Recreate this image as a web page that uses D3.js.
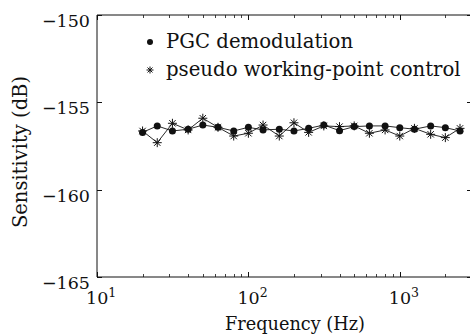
<!DOCTYPE html>
<html><head><meta charset="utf-8">
<script src="https://cdn.jsdelivr.net/npm/d3@7"></script>
<style>html,body{margin:0;padding:0;background:#fff;}svg{display:block;}</style>
</head><body>
<svg id="c" width="470" height="336"></svg>
<script>
const freqs = [20,25,31.5,40,50,63,80,100,125,160,200,250,315,400,500,630,800,1000,1250,1600,2000,2500];
const pgc = [-156.72,-156.35,-156.64,-156.54,-156.30,-156.43,-156.64,-156.43,-156.58,-156.54,-156.64,-156.49,-156.30,-156.62,-156.39,-156.35,-156.35,-156.45,-156.54,-156.35,-156.45,-156.64];
const pseudo = [-156.64,-157.31,-156.20,-156.58,-155.91,-156.43,-156.93,-156.77,-156.30,-156.93,-156.17,-156.72,-156.35,-156.39,-156.35,-156.77,-156.58,-156.93,-156.49,-156.83,-157.02,-156.49];
const seriesNames = ["PGC demodulation","pseudo working-point control"];
const yTicks = [-165,-160,-155,-150];
const xMajor = [10,100,1000];
const xDomain = [10,3000];
const yDomain = [-165,-150];

const svg = d3.select("#c");
const L=97, R=472, T=15, B=277;
const x = d3.scaleLog().domain(xDomain).range([L,R]);
const y = d3.scaleLinear().domain(yDomain).range([B,T]);
const font = "'DejaVu Serif', serif";
const ink = "#111";

const minor = [];
for (let d=10; d<xDomain[1]; d*=10) for (let k=2;k<=9;k++){ if(d*k<=xDomain[1]) minor.push(d*k); }

const g = svg.append("g");
g.append("line").attr("x1",L).attr("x2",L).attr("y1",T).attr("y2",B).attr("stroke",ink);
g.append("line").attr("x1",L).attr("x2",R).attr("y1",B).attr("y2",B).attr("stroke",ink);
g.append("line").attr("x1",L).attr("x2",R).attr("y1",T).attr("y2",T).attr("stroke",ink);
g.append("line").attr("x1",R).attr("x2",R).attr("y1",T).attr("y2",B).attr("stroke",ink);

minor.forEach(v=>{
  const xx = Math.round(x(v))+0.5;
  g.append("line").attr("x1",xx).attr("x2",xx).attr("y1",B).attr("y2",B-3).attr("stroke",ink).attr("stroke-width",0.8);
  g.append("line").attr("x1",xx).attr("x2",xx).attr("y1",T).attr("y2",T+3).attr("stroke",ink).attr("stroke-width",0.8);
});
xMajor.forEach(v=>{
  const xx = Math.round(x(v))+0.5;
  g.append("line").attr("x1",xx).attr("x2",xx).attr("y1",B).attr("y2",B-5).attr("stroke",ink);
  g.append("line").attr("x1",xx).attr("x2",xx).attr("y1",T).attr("y2",T+5).attr("stroke",ink);
  const t = g.append("text").attr("x",x(v)-11).attr("y",B+27).attr("text-anchor","start")
    .attr("font-family",font).attr("font-size",17.5).attr("fill",ink);
  t.append("tspan").text("10");
  t.append("tspan").attr("dy",-7).attr("font-size",12.5).text(String(Math.round(Math.log10(v))));
});
yTicks.forEach(v=>{
  const yy = Math.round(y(v))+0.5;
  g.append("line").attr("x1",L).attr("x2",L+5).attr("y1",yy).attr("y2",yy).attr("stroke",ink);
  g.append("line").attr("x1",R-5).attr("x2",R).attr("y1",yy).attr("y2",yy).attr("stroke",ink);
  g.append("text").attr("x",L-7).attr("y",y(v)+12).attr("text-anchor","end")
    .attr("font-family",font).attr("font-size",17.5).attr("fill",ink).text("\u2212"+Math.abs(v));
});
g.append("text").attr("x",295).attr("y",330).attr("text-anchor","middle")
  .attr("font-family",font).attr("font-size",17.7).attr("fill",ink).text("Frequency (Hz)");
g.append("text").attr("transform","translate(27,152) rotate(-90)").attr("text-anchor","middle")
  .attr("font-family",font).attr("font-size",19.5).attr("fill",ink).text("Sensitivity (dB)");

const line = d3.line().x(d=>x(d[0])).y(d=>y(d[1]));
const d1 = freqs.map((f,i)=>[f,pgc[i]]);
const d2 = freqs.map((f,i)=>[f,pseudo[i]]);
g.append("path").attr("d",line(d2)).attr("fill","none").attr("stroke",ink).attr("stroke-width",0.9);
g.append("path").attr("d",line(d1)).attr("fill","none").attr("stroke",ink).attr("stroke-width",0.9);

function star(sel,cx,cy,r){
  const a = r*0.7071;
  const p = `M${cx-r},${cy}L${cx+r},${cy}M${cx},${cy-r}L${cx},${cy+r}M${cx-a},${cy-a}L${cx+a},${cy+a}M${cx-a},${cy+a}L${cx+a},${cy-a}`;
  sel.append("path").attr("d",p).attr("stroke",ink).attr("stroke-width",1).attr("fill","none");
}
d2.forEach(d=>star(g,x(d[0]),y(d[1]),4.5));
g.selectAll("circle.p").data(d1).enter().append("circle").attr("class","p")
  .attr("cx",d=>x(d[0])).attr("cy",d=>y(d[1])).attr("r",3.5).attr("fill",ink);

g.append("circle").attr("cx",150).attr("cy",42).attr("r",3).attr("fill",ink);
g.append("text").attr("x",166).attr("y",48).attr("font-family",font).attr("font-size",19.7).attr("fill",ink).text(seriesNames[0]);
star(g,150,70,3.5);
g.append("text").attr("x",166).attr("y",76).attr("font-family",font).attr("font-size",19.7).attr("fill",ink).text(seriesNames[1]);
</script>
</body></html>
